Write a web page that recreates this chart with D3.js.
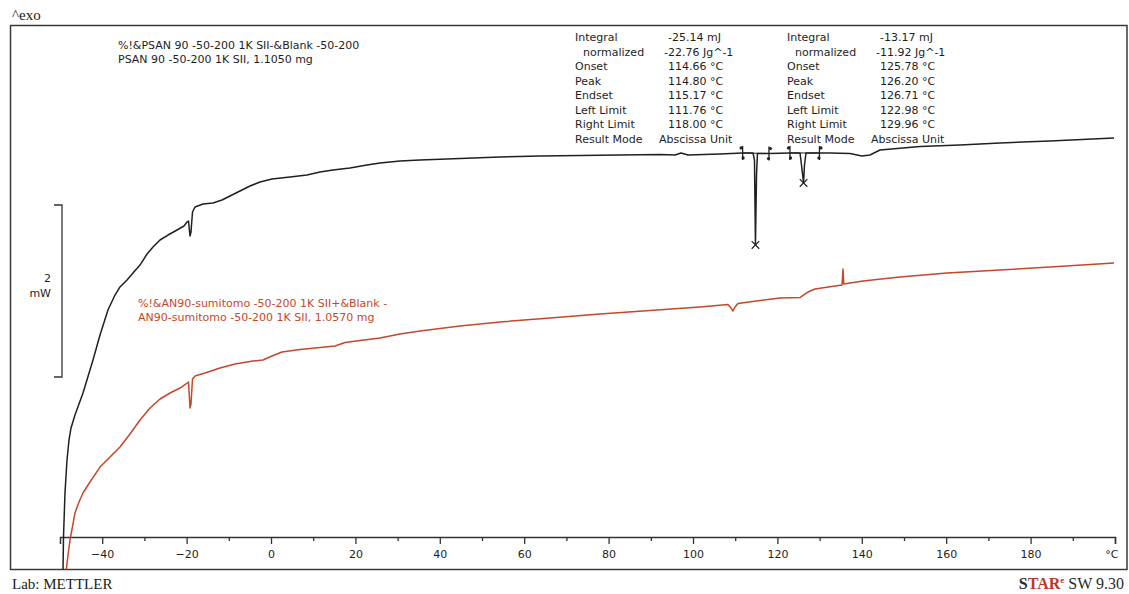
<!DOCTYPE html>
<html>
<head>
<meta charset="utf-8">
<script src="https://cdn.jsdelivr.net/npm/d3@7"></script>
<style>
  html, body { margin: 0; padding: 0; background: #fff; }
  svg { display: block; }
  .sans { font-family: "DejaVu Sans", Verdana, sans-serif; font-size: 11px; fill: #1e1e1e; }
  .serif { font-family: "Liberation Serif", "Times New Roman", serif; }
</style>
</head>
<body>
<svg id="chart" width="1129" height="594"></svg>
<script>
// DSC heat-flow curves, temperature in °C, heat flow in mW (offset baseline)
const psanTemp = [-49.29, -49.17, -48.82, -48.34, -47.87, -47.39, -46.45, -44.55, -42.18, -40.52,
  -38.63, -36.97, -35.78, -34.12, -32.70, -31.04, -29.38, -27.96, -26.30, -24.41,
  -22.27, -20.62, -19.91, -19.55, -19.19, -18.96, -18.60, -18.01, -16.11, -13.74,
  -11.61, -9.72, -7.35, -4.98, -2.61, 0.24, 4.50, 8.53, 11.61, 14.69,
  18.72, 22.75, 25.83, 30.57, 35.31, 44.79, 54.27, 63.74, 73.22, 82.70,
  92.18, 95.73, 97.16, 98.82, 106.40, 111.76, 114.22, 114.57, 114.80, 115.05,
  115.28, 118.00, 122.98, 125.36, 125.71, 126.20, 126.42, 126.78, 129.96, 132.46,
  137.20, 140.05, 141.94, 144.31, 153.79, 163.27, 172.75, 184.60, 199.76];
const psanFlow = [-2.267, -1.860, -1.349, -0.965, -0.733, -0.593, -0.442, -0.186, 0.198, 0.488,
  0.779, 0.953, 1.047, 1.128, 1.209, 1.302, 1.430, 1.512, 1.593, 1.651,
  1.709, 1.756, 1.802, 1.814, 1.640, 1.686, 1.919, 1.977, 2.012, 2.023,
  2.058, 2.105, 2.163, 2.221, 2.267, 2.302, 2.326, 2.349, 2.384, 2.407,
  2.430, 2.465, 2.488, 2.512, 2.523, 2.541, 2.558, 2.570, 2.576, 2.581,
  2.587, 2.581, 2.605, 2.581, 2.593, 2.605, 2.605, 2.523, 1.535, 2.349,
  2.599, 2.599, 2.605, 2.605, 2.465, 2.256, 2.465, 2.605, 2.605, 2.605,
  2.599, 2.570, 2.581, 2.640, 2.680, 2.698, 2.721, 2.744, 2.779];
const an90Temp = [-48.58, -48.10, -47.63, -46.92, -46.45, -45.50, -44.55, -42.89, -40.52, -38.15,
  -35.78, -33.41, -31.04, -28.67, -26.30, -23.93, -21.56, -20.14, -19.55, -19.19,
  -18.96, -18.60, -18.01, -15.64, -12.09, -8.53, -4.27, -1.90, 0.24, 2.61,
  6.87, 11.61, 15.17, 17.54, 21.09, 25.83, 30.57, 35.31, 44.79, 54.27,
  66.11, 77.96, 89.81, 101.66, 108.29, 109.00, 109.48, 109.95, 110.66, 115.88,
  120.62, 125.36, 126.07, 127.25, 128.91, 131.28, 135.31, 135.55, 135.73, 140.28,
  149.05, 160.19, 172.75, 184.60, 199.76];
const an90Flow = [-2.267, -2.070, -1.895, -1.709, -1.581, -1.453, -1.349, -1.221, -1.047, -0.930,
  -0.814, -0.663, -0.500, -0.360, -0.256, -0.186, -0.128, -0.081, -0.058, -0.360,
  -0.314, -0.023, 0.012, 0.047, 0.105, 0.151, 0.186, 0.198, 0.244, 0.291,
  0.320, 0.343, 0.360, 0.401, 0.424, 0.453, 0.500, 0.535, 0.593, 0.640,
  0.686, 0.733, 0.773, 0.814, 0.843, 0.802, 0.767, 0.814, 0.855, 0.890,
  0.919, 0.924, 0.948, 0.988, 1.023, 1.041, 1.070, 1.256, 1.081, 1.116,
  1.163, 1.209, 1.244, 1.279, 1.326];

// Evaluated peaks on the PSAN curve
const peakTemp = [114.80, 126.20];
const leftLimit = [111.76, 122.98];
const rightLimit = [118.00, 129.96];

// Temperature axis ticks
const majorTicks = [-40, -20, 0, 20, 40, 60, 80, 100, 120, 140, 160, 180, 200];
const minorTicks = [-30, -10, 10, 30, 50, 70, 90, 110, 130, 150, 170, 190];

// Curve captions
const psanCaption = ["%!&PSAN 90 -50-200 1K SII-&Blank -50-200", "PSAN 90 -50-200 1K SII, 1.1050 mg"];
const an90Caption = ["%!&AN90-sumitomo -50-200 1K SII+&Blank -", "AN90-sumitomo -50-200 1K SII, 1.0570 mg"];

// Result tables of the two peak evaluations
const resultLabels = ["Integral", "normalized", "Onset", "Peak", "Endset", "Left Limit", "Right Limit", "Result Mode"];
const resultValues1 = ["-25.14 mJ", "-22.76 Jg^-1", "114.66 °C", "114.80 °C", "115.17 °C", "111.76 °C", "118.00 °C", "Abscissa Unit"];
const resultValues2 = ["-13.17 mJ", "-11.92 Jg^-1", "125.78 °C", "126.20 °C", "126.71 °C", "122.98 °C", "129.96 °C", "Abscissa Unit"];

const svg = d3.select("#chart");
const frame = { left: 10.5, top: 25.5, right: 1127, bottom: 569.5 };
const axisY = 537;

const x = d3.scaleLinear().domain([-50, 200]).range([60, 1115]);
// 2 mW scale bar spans 205..377 px
const y = d3.scaleLinear().domain([0, 2]).range([377, 205]);

const ink = "#202020";
const red = "#c4472b";

// Frame
svg.append("rect")
  .attr("x", frame.left).attr("y", frame.top)
  .attr("width", frame.right - frame.left).attr("height", frame.bottom - frame.top)
  .attr("fill", "none").attr("stroke", "#3a3a3a").attr("stroke-width", 1.5);

svg.append("defs").append("clipPath").attr("id", "plotclip")
  .append("rect")
  .attr("x", frame.left).attr("y", frame.top)
  .attr("width", frame.right - frame.left).attr("height", frame.bottom - frame.top);

// Temperature axis
const gAxis = svg.append("g").attr("transform", `translate(0,${axisY})`);
gAxis.call(d3.axisBottom(x).tickValues(majorTicks).tickSize(7).tickSizeOuter(7).tickPadding(6)
  .tickFormat(d => d === 200 ? "°C" : d3.format("d")(d)));
const gMinor = svg.append("g").attr("transform", `translate(0,${axisY})`);
gMinor.call(d3.axisBottom(x).tickValues(minorTicks).tickSize(4).tickSizeOuter(0).tickFormat(""));
gMinor.select(".domain").remove();
svg.selectAll(".tick line").attr("stroke", "#333").attr("stroke-width", 1.3);
gAxis.select(".domain").attr("stroke", "#333").attr("stroke-width", 1.5);
gAxis.selectAll(".tick text")
  .attr("class", "sans")
  .style("font-family", "'DejaVu Sans', Verdana, sans-serif")
  .style("font-size", "11px")
  .attr("fill", "#1e1e1e");
gAxis.selectAll(".tick").filter(d => d === 200).select("text")
  .attr("text-anchor", "end").attr("dx", 3);

// Curves
const line = d3.line().x(d => x(d[0])).y(d => y(d[1]));
const plot = svg.append("g").attr("clip-path", "url(#plotclip)");
plot.append("path")
  .datum(d3.zip(an90Temp, an90Flow))
  .attr("d", line).attr("fill", "none").attr("stroke", red).attr("stroke-width", 1.5)
  .attr("stroke-linejoin", "round");
plot.append("path")
  .datum(d3.zip(psanTemp, psanFlow))
  .attr("d", line).attr("fill", "none").attr("stroke", ink).attr("stroke-width", 1.5)
  .attr("stroke-linejoin", "round");

// Integration limits and peak markers
const flowAt = t => psanFlow[psanTemp.indexOf(t)];
const marks = svg.append("g").attr("stroke", ink).attr("fill", ink);
leftLimit.forEach((t, i) => {
  const yl = y(flowAt(t)), yr = y(flowAt(rightLimit[i]));
  [[t, yl, 1], [rightLimit[i], yr, -1]].forEach(([tt, yy, dir]) => {
    const xx = x(tt);
    marks.append("line").attr("x1", xx).attr("x2", xx).attr("y1", yy - 7).attr("y2", yy + 7).attr("stroke-width", 1.3);
    marks.append("circle").attr("cx", xx - dir * 1.5).attr("cy", yy - 5).attr("r", 1.6).attr("stroke", "none");
    marks.append("circle").attr("cx", xx + dir * 0.5).attr("cy", yy + 5).attr("r", 1.6).attr("stroke", "none");
  });
  marks.append("line").attr("x1", x(t)).attr("x2", x(rightLimit[i]))
    .attr("y1", yl).attr("y2", yr).attr("stroke-width", 1);
});
peakTemp.forEach(t => {
  const px = x(t), py = y(flowAt(t));
  const s = 3.8;
  marks.append("path").attr("d", `M${px - s},${py - s}L${px + s},${py + s}M${px - s},${py + s}L${px + s},${py - s}`)
    .attr("fill", "none").attr("stroke-width", 1.2);
});

// 2 mW scale bar
const bar = svg.append("g").attr("stroke", "#333").attr("stroke-width", 1.3).attr("fill", "none");
bar.append("path").attr("d", `M54,${y(2)}H62V${y(0)}H54`);
svg.append("text").attr("class", "sans").attr("x", 51).attr("y", 282).attr("text-anchor", "end").text("2");
svg.append("text").attr("class", "sans").attr("x", 51).attr("y", 297).attr("text-anchor", "end").text("mW");

// Captions
svg.selectAll("text.psan").data(psanCaption).join("text")
  .attr("class", "sans psan").attr("x", 118).attr("y", (d, i) => 49 + i * 14).text(d => d);
svg.selectAll("text.an90").data(an90Caption).join("text")
  .attr("class", "sans an90").attr("x", 138).attr("y", (d, i) => 307 + i * 14)
  .style("fill", red).text(d => d);

// Result tables
function resultTable(x0, xv, values) {
  const g = svg.append("g");
  resultLabels.forEach((lab, i) => {
    g.append("text").attr("class", "sans")
      .attr("x", x0 + (i === 1 ? 8 : 0)).attr("y", 41 + i * 14.57).text(lab);
    g.append("text").attr("class", "sans")
      .attr("x", xv - (i === 7 ? 9 : (i === 1 ? 4 : 0))).attr("y", 41 + i * 14.57).text(values[i]);
  });
}
resultTable(575, 668, resultValues1);
resultTable(787, 880, resultValues2);

// Header and footer
svg.append("text").attr("class", "serif").attr("x", 12).attr("y", 20)
  .style("font-size", "15px").attr("fill", "#222").text("^exo");
svg.append("text").attr("class", "serif").attr("x", 12).attr("y", 589)
  .style("font-size", "15px").attr("fill", "#222").text("Lab: METTLER");
const star = svg.append("text").attr("class", "serif").attr("x", 1124).attr("y", 589)
  .attr("text-anchor", "end").style("font-size", "16px").style("font-weight", "bold").attr("fill", "#2a2a2a");
star.append("tspan").text("S");
star.append("tspan").attr("fill", "#b8392a").text("TAR");
star.append("tspan").attr("fill", "#b8392a").attr("dy", -6).style("font-size", "9px").text("e");
star.append("tspan").attr("dy", 6).style("font-weight", "normal").text(" SW 9.30");
</script>
</body>
</html>
